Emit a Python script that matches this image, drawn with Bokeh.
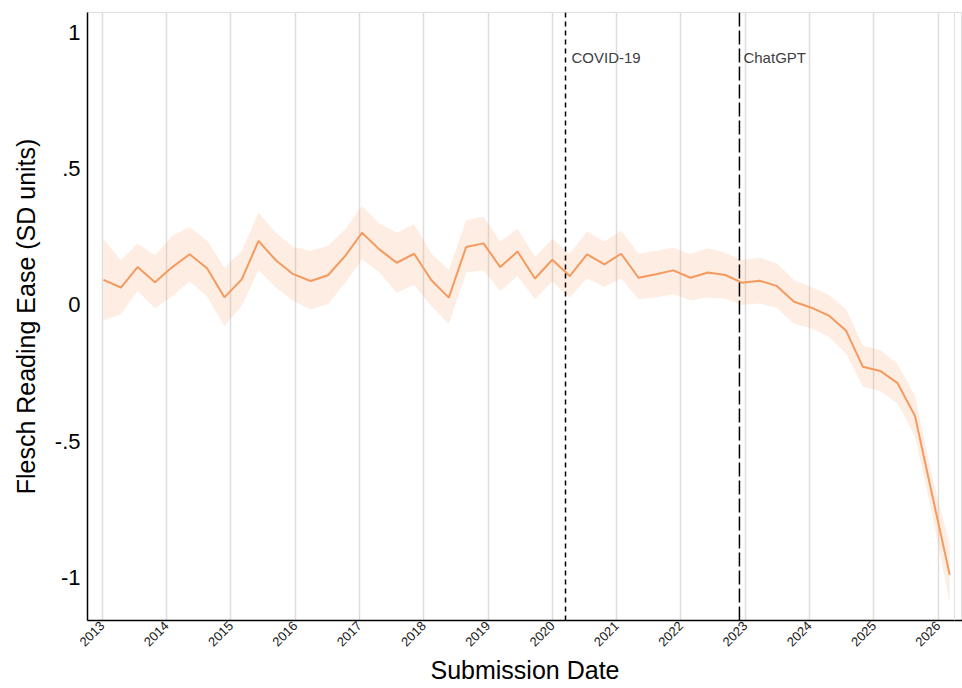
from bokeh.plotting import figure
from bokeh.models import Span, Label, FixedTicker, ColumnDataSource
from bokeh.embed import file_html
from bokeh.resources import INLINE

# Submission-date bins (decimal years)
dates = [2013.02, 2013.29, 2013.55, 2013.82, 2014.09, 2014.36, 2014.63, 2014.90,
         2015.17, 2015.43, 2015.70, 2015.97, 2016.24, 2016.51, 2016.78, 2017.04,
         2017.31, 2017.58, 2017.85, 2018.12, 2018.39, 2018.66, 2018.93, 2019.19,
         2019.46, 2019.73, 2020.00, 2020.27, 2020.54, 2020.81, 2021.07, 2021.34,
         2021.61, 2021.88, 2022.15, 2022.42, 2022.69, 2022.95, 2023.22, 2023.49,
         2023.76, 2024.03, 2024.30, 2024.57, 2024.83, 2025.10, 2025.37, 2025.64,
         2025.91, 2026.18]

# Mean Flesch Reading Ease (SD units)
mean_fre = [0.092, 0.064, 0.139, 0.083, 0.139, 0.186, 0.135, 0.028, 0.094, 0.235,
            0.164, 0.113, 0.088, 0.109, 0.180, 0.265, 0.204, 0.155, 0.188, 0.091,
            0.027, 0.213, 0.226, 0.139, 0.196, 0.097, 0.166, 0.106, 0.186, 0.149,
            0.188, 0.100, 0.113, 0.127, 0.100, 0.119, 0.110, 0.082, 0.089, 0.070,
            0.012, -0.010, -0.039, -0.095, -0.227, -0.242, -0.287, -0.407, -0.700, -0.990]

# 95% confidence band
upper_ci = [0.241, 0.164, 0.226, 0.182, 0.253, 0.286, 0.237, 0.137, 0.198, 0.339,
            0.265, 0.213, 0.198, 0.217, 0.278, 0.363, 0.298, 0.265, 0.296, 0.188,
            0.127, 0.311, 0.324, 0.232, 0.280, 0.176, 0.243, 0.188, 0.269, 0.232,
            0.272, 0.188, 0.198, 0.210, 0.186, 0.208, 0.192, 0.164, 0.174, 0.152,
            0.091, 0.066, 0.037, -0.016, -0.150, -0.165, -0.218, -0.334, -0.634, -0.880]
lower_ci = [-0.056, -0.034, 0.051, -0.012, 0.033, 0.086, 0.031, -0.077, -0.004, 0.127,
            0.064, 0.015, -0.016, 0.003, 0.082, 0.168, 0.119, 0.045, 0.073, -0.004,
            -0.071, 0.119, 0.127, 0.051, 0.106, 0.021, 0.086, 0.027, 0.098, 0.066,
            0.098, 0.021, 0.027, 0.039, 0.017, 0.027, 0.023, 0.000, 0.005, -0.010,
            -0.069, -0.086, -0.117, -0.179, -0.300, -0.316, -0.362, -0.481, -0.770, -1.095]

# Event markers
event_names = ["COVID-19", "ChatGPT"]
event_dates = [2020.205, 2022.91]
event_dashes = ["5 4", "14 4"]

year_ticks = list(range(2013, 2027))
y_ticks = [-1.0, -0.5, 0.0, 0.5, 1.0]
y_tick_labels = ["-1", "-.5", "0", ".5", "1"]

FONT = "Liberation Sans"
LINE_COLOR = "#F59A5E"

src = ColumnDataSource(dict(date=dates, mean=mean_fre, lo=lower_ci, hi=upper_ci))

p = figure(width=962, height=688, output_backend="svg", toolbar_location=None,
           x_range=(2012.771, 2026.379), y_range=(-1.158, 1.0734),
           min_border_left=87, min_border_right=0, min_border_top=12,
           min_border_bottom=68)

p.background_fill_color = "white"
p.border_fill_color = "white"
p.outline_line_color = "#DDDDDD"
p.outline_line_width = 1

# confidence band and mean line
p.varea(x="date", y1="lo", y2="hi", source=src, fill_color="#F7A470", fill_alpha=0.2)
p.line(x="date", y="mean", source=src, line_color=LINE_COLOR, line_width=2)

# event lines with labels
for name, d, dash in zip(event_names, event_dates, event_dashes):
    p.add_layout(Span(location=d, dimension="height", line_color="black",
                      line_width=1.5, line_dash=dash))
    p.add_layout(Label(x=d, y=0.908, text=name, x_offset=6 if name == "COVID-19" else 4,
                       text_font=FONT, text_font_size="15px", text_color="#404040",
                       text_baseline="middle", text_align="left"))

# thin right-hand panel edge
p.add_layout(Span(location=2026.255, dimension="height", line_color="#E2E2E2", line_width=1))

# grid
p.xgrid.ticker = FixedTicker(ticks=year_ticks)
p.xgrid.grid_line_color = "#DDDDDD"
p.xgrid.grid_line_width = 1.5
p.ygrid.grid_line_color = None

# x axis
p.xaxis.ticker = FixedTicker(ticks=year_ticks)
p.xaxis.major_label_overrides = {y: str(y) for y in year_ticks}
p.xaxis.major_label_orientation = 0.785398
p.xaxis.major_label_text_font = FONT
p.xaxis.major_label_text_font_size = "13px"
p.xaxis.major_label_text_color = "#1A1A1A"
p.xaxis.major_label_standoff = 3
p.xaxis.axis_label = "Submission Date"
p.xaxis.axis_label_text_font = FONT
p.xaxis.axis_label_text_font_size = "25px"
p.xaxis.axis_label_text_font_style = "normal"
p.xaxis.axis_label_text_color = "black"
p.xaxis.axis_label_standoff = 3

# y axis
p.yaxis.ticker = FixedTicker(ticks=y_ticks)
p.yaxis.major_label_overrides = dict(zip(y_ticks, y_tick_labels))
p.yaxis.major_label_text_font = FONT
p.yaxis.major_label_text_font_size = "22px"
p.yaxis.major_label_text_color = "black"
p.yaxis.major_label_standoff = 7
p.yaxis.axis_label = "Flesch Reading Ease (SD units)"
p.yaxis.axis_label_text_font = FONT
p.yaxis.axis_label_text_font_size = "25px"
p.yaxis.axis_label_text_font_style = "normal"
p.yaxis.axis_label_text_color = "black"
p.yaxis.axis_label_standoff = 12

for ax in (p.xaxis, p.yaxis):
    ax.axis_line_color = "black"
    ax.axis_line_width = 1.5
    ax.major_tick_line_color = None
    ax.minor_tick_line_color = None
    ax.major_tick_out = 0
    ax.major_tick_in = 0
    ax.minor_tick_out = 0

open("out.html", "w").write(file_html(p, INLINE))
